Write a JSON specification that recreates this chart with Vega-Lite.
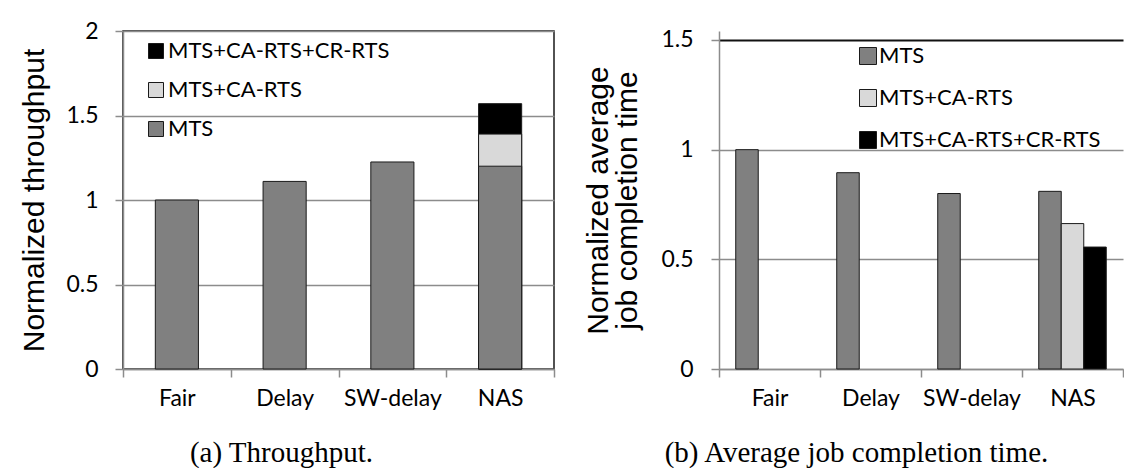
{
  "$schema": "https://vega.github.io/schema/vega-lite/v6.json",
  "padding": {"left": 19, "top": 19, "right": 0, "bottom": 0},
  "background": "white",
  "datasets": {
    "throughput": [
      {"scheduler": "Fair", "config": "MTS", "value": 1.0},
      {"scheduler": "Delay", "config": "MTS", "value": 1.11},
      {"scheduler": "SW-delay", "config": "MTS", "value": 1.225},
      {"scheduler": "NAS", "config": "MTS+CA-RTS+CR-RTS", "value": 1.57},
      {"scheduler": "NAS", "config": "MTS+CA-RTS", "value": 1.39},
      {"scheduler": "NAS", "config": "MTS", "value": 1.2}
    ],
    "jct": [
      {"scheduler": "Fair", "config": "MTS", "value": 1.0},
      {"scheduler": "Delay", "config": "MTS", "value": 0.895},
      {"scheduler": "SW-delay", "config": "MTS", "value": 0.8},
      {"scheduler": "NAS", "config": "MTS", "value": 0.81},
      {"scheduler": "NAS", "config": "MTS+CA-RTS", "value": 0.663},
      {"scheduler": "NAS", "config": "MTS+CA-RTS+CR-RTS", "value": 0.556}
    ]
  },
  "spacing": 27,
  "hconcat": [
    {
      "width": 431,
      "height": 338,
      "data": {"name": "throughput"},
      "mark": {"type": "bar", "width": {"band": 0.4}, "stroke": "#1a1a1a", "strokeWidth": 1},
      "encoding": {
        "x": {
          "field": "scheduler", "type": "nominal",
          "sort": ["Fair", "Delay", "SW-delay", "NAS"],
          "scale": {"paddingInner": 0, "paddingOuter": 0},
          "axis": {
            "title": "(a) Throughput.", "labelAngle": 0, "tickBand": "extent", "grid": false,
            "labelPadding": 10,
            "titleFont": "Liberation Serif", "titleFontSize": 29, "titleFontWeight": "normal", "titleColor": "#000",
            "titleAnchor": "middle", "titleX": 158, "titleY": 92, "titleBaseline": "alphabetic"
          }
        },
        "y": {
          "field": "value", "type": "quantitative", "stack": null,
          "scale": {"domain": [0, 2], "nice": false},
          "axis": {
            "title": "Normalized throughput", "values": [0, 0.5, 1, 1.5, 2], "format": ".1~f",
            "labelPadding": 17, "titlePadding": 16,
            "titleFont": "Liberation Sans", "titleFontSize": 30, "titleFontWeight": "normal", "titleColor": "#000"
          }
        },
        "color": {
          "field": "config", "type": "nominal",
          "scale": {"domain": ["MTS+CA-RTS+CR-RTS", "MTS+CA-RTS", "MTS"], "range": ["#000000", "#d9d9d9", "#808080"]},
          "legend": {"orient": "none", "legendX": 22, "legendY": 9, "rowPadding": 17, "labelOffset": 1}
        }
      }
    },
    {
      "width": 404,
      "height": 338,
      "view": {"stroke": null},
      "data": {"name": "jct"},
      "mark": {"type": "bar", "stroke": "#1a1a1a", "strokeWidth": 1},
      "encoding": {
        "x": {
          "field": "scheduler", "type": "nominal",
          "sort": ["Fair", "Delay", "SW-delay", "NAS"],
          "scale": {"paddingInner": 0, "paddingOuter": 0},
          "axis": {
            "title": "(b) Average job completion time.", "labelAngle": 0, "tickBand": "extent", "grid": false,
            "labelPadding": 10,
            "titleFont": "Liberation Serif", "titleFontSize": 29, "titleFontWeight": "normal", "titleColor": "#000",
            "titleAnchor": "middle", "titleX": 137, "titleY": 92, "titleBaseline": "alphabetic"
          }
        },
        "xOffset": {
          "field": "config", "type": "nominal",
          "scale": {"domain": ["MTS", "MTS+CA-RTS", "MTS+CA-RTS+CR-RTS"], "paddingInner": 0, "paddingOuter": 0.744}
        },
        "y": {
          "field": "value", "type": "quantitative",
          "scale": {"domain": [0, 1.541], "nice": false},
          "axis": {
            "title": ["Normalized average", "job completion time"], "values": [0, 0.5, 1, 1.5], "format": ".1~f",
            "labelPadding": 18, "titlePadding": 18, "titleLineHeight": 29,
            "gridColor": {"condition": {"test": "datum.value === 1.5", "value": "#111111"}, "value": "#8c8c8c"},
            "gridWidth": {"condition": {"test": "datum.value === 1.5", "value": 2}, "value": 1.5},
            "titleFont": "Liberation Sans", "titleFontSize": 30, "titleFontWeight": "normal", "titleColor": "#000"
          }
        },
        "color": {
          "field": "config", "type": "nominal",
          "scale": {"domain": ["MTS", "MTS+CA-RTS", "MTS+CA-RTS+CR-RTS"], "range": ["#808080", "#d9d9d9", "#000000"]},
          "legend": {"orient": "none", "legendX": 138, "legendY": 14, "rowPadding": 20, "labelOffset": 0, "symbolSize": 289}
        }
      }
    }
  ],
  "resolve": {
    "scale": {"x": "independent", "y": "independent", "color": "independent", "xOffset": "independent"},
    "legend": {"color": "independent"}
  },
  "config": {
    "font": "Lato",
    "view": {"stroke": "#1a1a1a", "strokeWidth": 1.5},
    "bar": {"opacity": 1},
    "axis": {
      "labelFont": "Lato", "labelFontSize": 23, "labelColor": "#000",
      "domainColor": "#8c8c8c", "domainWidth": 1.5,
      "tickColor": "#8c8c8c", "tickWidth": 1.5, "tickSize": 8,
      "gridColor": "#8c8c8c", "gridWidth": 1.5
    },
    "legend": {
      "title": null, "padding": 0, "symbolType": "square", "symbolSize": 225,
      "symbolStrokeColor": "#1a1a1a", "symbolStrokeWidth": 1, "symbolOpacity": 1,
      "labelFont": "Lato", "labelFontSize": 22, "labelColor": "#000",
      "labelOffset": 6, "labelLimit": 400
    }
  }
}
